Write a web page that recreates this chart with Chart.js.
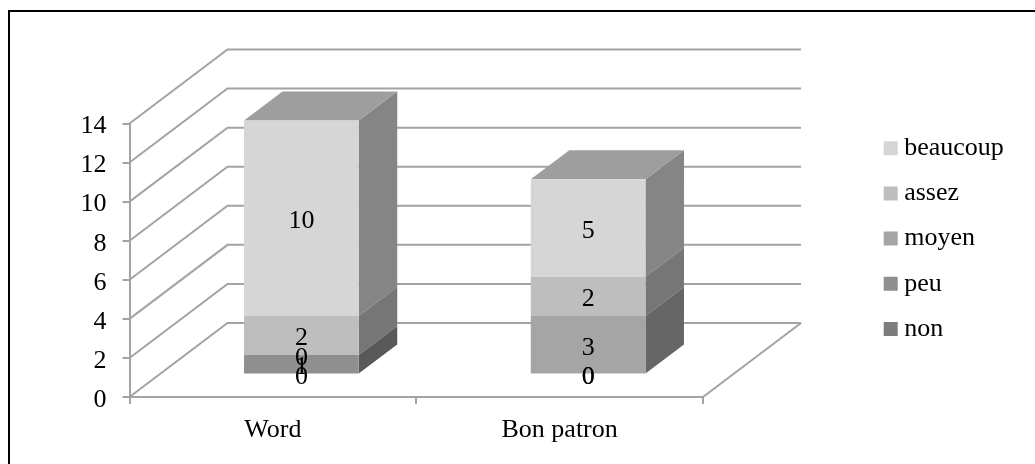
<!DOCTYPE html>
<html>
<head>
<meta charset="utf-8">
<style>
  html, body { margin: 0; padding: 0; background: #fff; }
  canvas { display: block; }
</style>
<script src="https://cdn.jsdelivr.net/npm/chart.js@4"></script>
</head>
<body>
<canvas id="chart" width="1035" height="464"></canvas>
<script>
const categories = ["Word", "Bon patron"];
const seriesNames = ["non", "peu", "moyen", "assez", "beaucoup"];
const nonValues = [0, 0];
const peuValues = [1, 0];
const moyenValues = [0, 3];
const assezValues = [2, 2];
const beaucoupValues = [10, 5];
const yTicks = [0, 2, 4, 6, 8, 10, 12, 14];

const seriesColors = ["#7d7d7d", "#8f8f8f", "#a5a5a5", "#bebebe", "#d6d6d6"];
const seriesValues = [nonValues, peuValues, moyenValues, assezValues, beaucoupValues];

const gridColor = "#a3a3a3";
const fontFamily = "'Liberation Serif', serif";

// 3d look: depth of the whole floor, and of the bars standing on it
const floorDepth = { x: 98, y: -74 };
const barOffset = { x: 28.5, y: -22.5 };
const barDepth = { x: 38.5, y: -29 };

function shade(hex, k) {
  const n = parseInt(hex.slice(1), 16);
  const r = Math.round(((n >> 16) & 255) * k);
  const g = Math.round(((n >> 8) & 255) * k);
  const b = Math.round((n & 255) * k);
  return `rgb(${r},${g},${b})`;
}

function face(ctx, points, color) {
  ctx.fillStyle = color;
  ctx.beginPath();
  points.forEach((p, i) => (i ? ctx.lineTo(p[0], p[1]) : ctx.moveTo(p[0], p[1])));
  ctx.closePath();
  ctx.fill();
}

// Page border (top and left only), back wall, left wall and floor
const wallsPlugin = {
  id: "walls",
  beforeDatasetsDraw(chart) {
    const { ctx, chartArea: area, scales } = chart;
    ctx.save();
    ctx.strokeStyle = "#000";
    ctx.lineWidth = 2;
    ctx.beginPath();
    ctx.moveTo(9, 464);
    ctx.lineTo(9, 11);
    ctx.lineTo(1035, 11);
    ctx.stroke();

    ctx.strokeStyle = gridColor;
    ctx.lineWidth = 2;
    ctx.beginPath();
    yTicks.forEach((v) => {
      const y = scales.y.getPixelForValue(v);
      ctx.moveTo(area.left, y);
      ctx.lineTo(area.left + floorDepth.x, y + floorDepth.y);
      ctx.lineTo(area.right + floorDepth.x, y + floorDepth.y);
    });
    ctx.moveTo(area.right, area.bottom);
    ctx.lineTo(area.right + floorDepth.x, area.bottom + floorDepth.y);
    ctx.stroke();
    ctx.restore();
  },
};

// Moves each bar back onto the floor and adds its side and top faces
const barsPlugin = {
  id: "bars3d",
  beforeDatasetDraw(chart, args) {
    const { ctx } = chart;
    ctx.save();
    ctx.translate(barOffset.x, barOffset.y);
    const color = seriesColors[args.index];
    args.meta.data.forEach((bar) => {
      if (Math.abs(bar.y - bar.base) < 0.01) return;
      const right = bar.x + bar.width / 2;
      face(ctx, [
        [right, bar.y],
        [right + barDepth.x, bar.y + barDepth.y],
        [right + barDepth.x, bar.base + barDepth.y],
        [right, bar.base],
      ], shade(color, 0.62));
    });
    if (args.index === seriesNames.length - 1) {
      args.meta.data.forEach((bar) => {
        const left = bar.x - bar.width / 2;
        const right = bar.x + bar.width / 2;
        face(ctx, [
          [left, bar.y],
          [left + barDepth.x, bar.y + barDepth.y],
          [right + barDepth.x, bar.y + barDepth.y],
          [right, bar.y],
        ], shade(color, 0.74));
      });
    }
  },
  afterDatasetDraw(chart) {
    chart.ctx.restore();
  },
  afterDatasetsDraw(chart) {
    const { ctx } = chart;
    ctx.save();
    ctx.translate(barOffset.x, barOffset.y);
    ctx.fillStyle = "#000";
    ctx.font = `26px ${fontFamily}`;
    ctx.textAlign = "center";
    ctx.textBaseline = "middle";
    seriesValues.forEach((values, i) => {
      chart.getDatasetMeta(i).data.forEach((bar, j) => {
        ctx.fillText(String(values[j]), bar.x, (bar.y + bar.base) / 2 + 3);
      });
    });
    ctx.restore();
  },
};

// Legend sits in the free space right of the plot
const legendPlugin = {
  id: "legendSpot",
  afterLayout(chart) {
    const legend = chart.legend;
    const w = legend.width;
    const h = legend.height;
    legend.left = 871;
    legend.right = 871 + w;
    legend.top = 116;
    legend.bottom = 116 + h;
    legend.adjustHitBoxes();
  },
};

new Chart(document.getElementById("chart"), {
  type: "bar",
  data: {
    labels: categories,
    datasets: seriesNames.map((name, i) => ({
      label: name,
      data: seriesValues[i],
      backgroundColor: seriesColors[i],
      borderWidth: 0,
      clip: false,
      barPercentage: 0.4,
      categoryPercentage: 1,
    })),
  },
  options: {
    responsive: false,
    animation: false,
    events: [],
    layout: { padding: { top: 123.5, right: 332, left: 0, bottom: 0 } },
    font: { family: fontFamily, size: 26 },
    scales: {
      x: {
        stacked: true,
        afterFit: (scale) => { scale.height = 67; },
        grid: { color: gridColor, lineWidth: 2, drawOnChartArea: false, tickLength: 7, offset: true },
        border: { color: gridColor, width: 2 },
        ticks: { color: "#000", padding: 11, font: { family: fontFamily, size: 26 } },
      },
      y: {
        stacked: true,
        min: 0,
        max: 14,
        afterFit: (scale) => { scale.width = 129.5; },
        afterBuildTicks: (scale) => { scale.ticks = yTicks.map((value) => ({ value })); },
        grid: { color: gridColor, lineWidth: 2, drawOnChartArea: false, tickLength: 7 },
        border: { color: gridColor, width: 2 },
        ticks: { color: "#000", padding: 16, labelOffset: 3, font: { family: fontFamily, size: 26 } },
      },
    },
    plugins: {
      tooltip: { enabled: false },
      legend: {
        position: "chartArea",
        align: "start",
        reverse: true,
        labels: {
          color: "#000",
          font: { family: fontFamily, size: 26 },
          usePointStyle: true,
          pointStyle: "rect",
          boxWidth: 1,
          boxHeight: 14,
          padding: 19.2,
        },
      },
    },
  },
  plugins: [wallsPlugin, barsPlugin, legendPlugin],
});
</script>
</body>
</html>
